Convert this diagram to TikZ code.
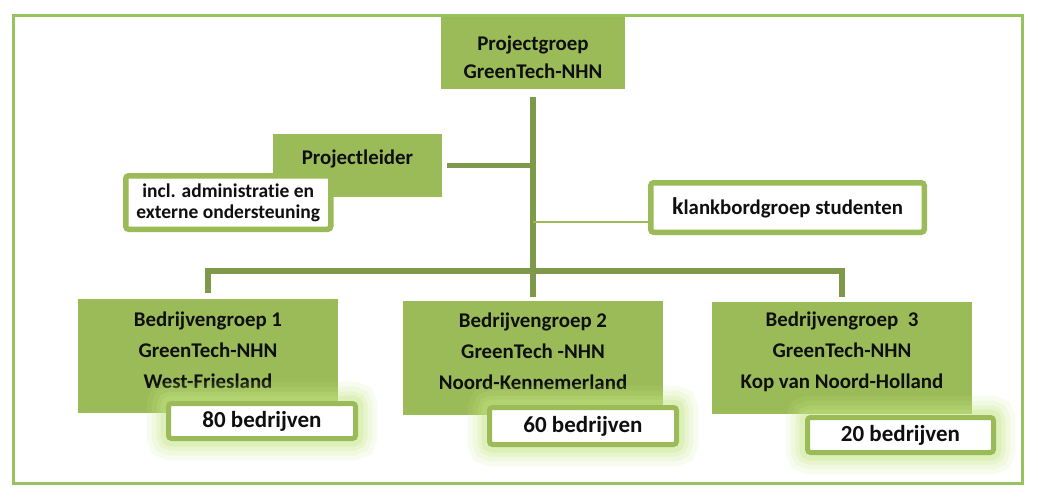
\documentclass[tikz,border=0pt]{standalone}
\usepackage{fontspec}
\setmainfont{Carlito}[RawFeature={-liga;-clig;-dlig}]
\usetikzlibrary{calc}
\definecolor{og}{RGB}{155,187,89}
\definecolor{ogdark}{RGB}{127,153,74}
\definecolor{framec}{RGB}{150,195,95}
\definecolor{glowc}{RGB}{198,230,135}
\definecolor{txt}{RGB}{15,15,15}
\begin{document}
\begin{tikzpicture}[x=1pt,y=-1pt,
  gbox/.style={fill=og, inner sep=0pt},
  gtext/.style={inner sep=0pt, align=center, text=txt,
    font=\bfseries\fontsize{20.9}{31}\selectfont},
  wbox/.style={draw=og, fill=white, rounded corners=3pt, inner sep=0pt,
    align=center, text=txt},
  glow/.style={
    preaction={draw=glowc, draw opacity=0.12, line width=44pt},
    preaction={draw=glowc, draw opacity=0.16, line width=34pt},
    preaction={draw=glowc, draw opacity=0.22, line width=24pt},
    preaction={draw=glowc, draw opacity=0.28, line width=16pt}},
  conn/.style={draw=ogdark, line width=5.5pt},
  thinconn/.style={draw=og, line width=2.5pt},
  smallnum/.style={font=\bfseries\fontsize{23}{24}\selectfont}
]
\useasboundingbox (0,0) rectangle (1038,496);
\draw[framec, line width=3pt] (13,15) rectangle (1022,483);

% top box
\node[gbox, minimum width=184pt, minimum height=72pt] (pg) at (533,53) {};
\node[gtext, font=\bfseries\fontsize{20.9}{28}\selectfont] (pgt)
  at ($(pg.center)+(0,4)$) {Projectgroep\\GreenTech-NHN};

% projectleider
\node[gbox, minimum width=169pt, minimum height=63pt] (pl) at (357.5,165.5) {};
\node[gtext] (plt) at ($(pl.center)+(0,-6.5)$) {Projectleider};
\node[wbox, line width=5.5pt, minimum width=205pt, minimum height=53.5pt,
  font=\bfseries\fontsize{19.5}{21}\selectfont] (incl) at (228.25,202.5)
  {incl. administratie en\\externe ondersteuning};

% klankbordgroep
\node[wbox, line width=5.5pt, minimum width=273.5pt, minimum height=49.5pt,
  font=\bfseries\fontsize{20.8}{24}\selectfont] (kb) at (787.5,207.5)
  {{\fontsize{24}{24}\selectfont k}lankbordgroep studenten};

% bedrijvengroepen
\node[gbox, minimum width=260pt, minimum height=114pt] (b1) at (208,356) {};
\node[gtext] (b1t) at (208,350.5)
  {Bedrijvengroep 1\\GreenTech-NHN\\West-Friesland};
\node[gbox, minimum width=260pt, minimum height=114pt] (b2) at (533,358) {};
\node[gtext] (b2t) at (533,351)
  {Bedrijvengroep 2\\GreenTech -NHN\\Noord-Kennemerland};
\node[gbox, minimum width=260pt, minimum height=112pt] (b3) at (842,358) {};
\node[gtext] (b3t) at (842,352)
  {Bedrijvengroep\ \ 3\\GreenTech-NHN\\Kop van Noord-Holland};

% counts
\node[wbox, glow, smallnum, line width=5pt, minimum width=187pt, minimum height=35pt]
  (n80) at (262,421) {80 bedrijven};
\node[wbox, glow, smallnum, line width=5pt, minimum width=187pt, minimum height=37pt]
  (n60) at (583,426) {60 bedrijven};
\node[wbox, glow, smallnum, line width=5pt, minimum width=186pt, minimum height=35pt]
  (n20) at (900.5,435) {20 bedrijven};

% connectors
\coordinate (j) at (533,271);
\draw[conn] ($(pg.south)+(0,8)$) -- ($(b2.north)+(0,-4)$);
\draw[conn, line join=miter] ($(b1.north)+(0,-6)$) -- (b1.north |- j)
  -- (b3.north |- j) -- ($(b3.north)+(0,-5)$);
\draw[conn] ($(pl.east)+(5,0)$) -- (pl.east -| j);
\coordinate (kbj) at ($(kb.west)+(0,14.5)$);
\draw[thinconn] (kbj) -- (kbj -| j);
\end{tikzpicture}
\end{document}
